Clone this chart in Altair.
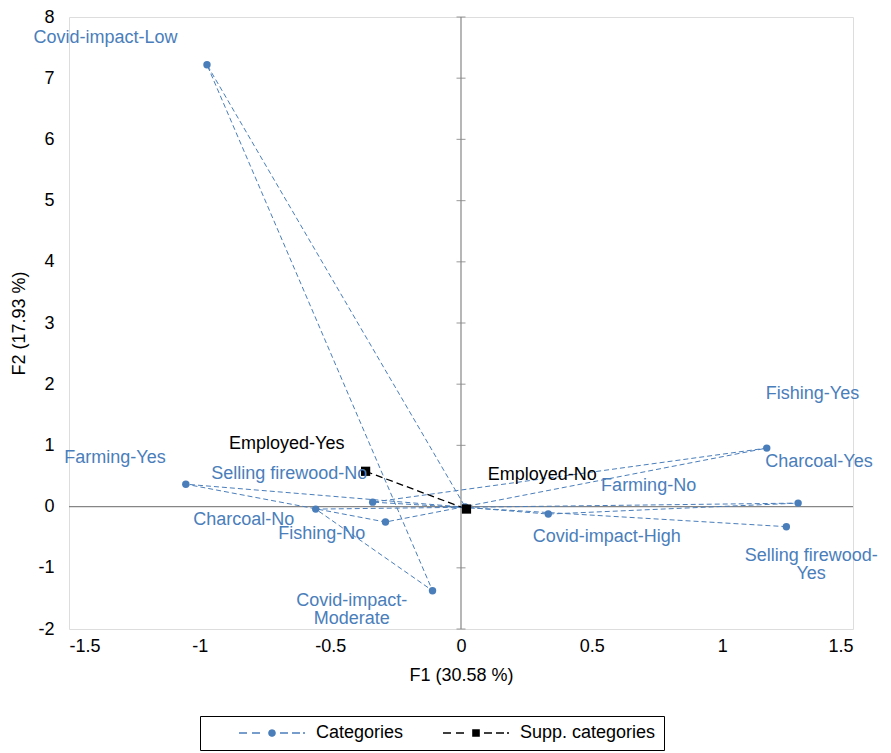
import altair as alt
import pandas as pd

# ---------------- data ----------------
# active categories, in the order the dashed series connects them
categories = ["Selling firewood-Yes", "Selling firewood-No", "Fishing-Yes", "Fishing-No",
              "Farming-Yes", "Covid-impact-High", "Charcoal-Yes", "Charcoal-No",
              "Covid-impact-Moderate", "Covid-impact-Low", "Farming-No"]
cat_f1 = [1.245, -0.338, 1.170, -0.289, -1.053, 0.334, 1.290, -0.556, -0.109, -0.972, 0.016]
cat_f2 = [-0.328, 0.073, 0.956, -0.252, 0.366, -0.122, 0.057, -0.041, -1.374, 7.22, -0.005]
cat_label_text = ["Selling firewood-\nYes", "Selling firewood-No", "Fishing-Yes", "Fishing-No",
                  "Farming-Yes", "Covid-impact-High", "Charcoal-Yes", "Charcoal-No",
                  "Covid-impact-\nModerate", "Covid-impact-Low", "Farming-No"]
cat_label_f1 = [1.340, -0.657, 1.345, -0.533, -1.324, 0.558, 1.370, -0.831, -0.418, -1.360, 0.718]
cat_label_f2 = [-0.813, 0.528, 1.846, -0.447, 0.789, -0.496, 0.724, -0.220, -1.545, 7.65, 0.333]

# supplementary categories
supp = ["Employed-Yes", "Employed-No"]
supp_f1 = [-0.365, 0.021]
supp_f2 = [0.577, -0.040]
supp_label_f1 = [-0.667, 0.311]
supp_label_f2 = [1.016, 0.512]

series_names = ["Categories", "Supp. categories"]
x_ticks = [-1.5, -1, -0.5, 0, 0.5, 1, 1.5]
y_ticks = [-2, -1, 0, 1, 2, 3, 4, 5, 6, 7, 8]

BLUE = "#4A7EBB"
FONT = "Liberation Sans"

cat_df = pd.DataFrame({"name": categories, "f1": cat_f1, "f2": cat_f2,
                       "seq": list(range(len(categories))),
                       "label": cat_label_text, "lf1": cat_label_f1, "lf2": cat_label_f2})
supp_df = pd.DataFrame({"name": supp, "f1": supp_f1, "f2": supp_f2,
                        "seq": list(range(len(supp))),
                        "label": supp, "lf1": supp_label_f1, "lf2": supp_label_f2})

xscale = alt.Scale(domain=[-1.5, 1.5], nice=False, zero=False)
yscale = alt.Scale(domain=[-2, 8], nice=False, zero=False)

xaxis = alt.Axis(values=x_ticks, labelExpr="'' + datum.value", title="F1 (30.58 %)",
                 grid=False, domain=False, ticks=False, labelPadding=8, titlePadding=11,
                 labelFontSize=18, titleFontSize=18, titleFontWeight="normal",
                 labelColor="black", titleColor="black", labelFont=FONT, titleFont=FONT)
yaxis = alt.Axis(values=y_ticks, labelExpr="'' + datum.value", title="F2 (17.93 %)",
                 grid=False, domain=False, ticks=False, labelPadding=15, titlePadding=9,
                 labelFontSize=18, titleFontSize=18, titleFontWeight="normal",
                 labelColor="black", titleColor="black", labelFont=FONT, titleFont=FONT)

# ---------------- legend symbols (dashes + marker), px relative to symbol centre ----------------
R = 7.0  # symbol "radius" used by the legend layout (size = (2R)^2)


def rect(x0, x1, h):
    return f"M{x0/R:.4f},{-h/R:.4f}H{x1/R:.4f}V{h/R:.4f}H{x0/R:.4f}Z"


def dashes():
    segs = [(22, 30), (35, 43), (63, 71), (75, 83), (86, 88)]
    return "".join(rect(a, b, 0.7) for a, b in segs)


cx = 55.0
rc = 3.8
circle_path = (f"M{(cx-rc)/R:.4f},0A{rc/R:.4f},{rc/R:.4f},0,1,0,{(cx+rc)/R:.4f},0"
               f"A{rc/R:.4f},{rc/R:.4f},0,1,0,{(cx-rc)/R:.4f},0Z")
sq = 3.8
square_path = f"M{(cx-sq)/R:.4f},{-sq/R:.4f}H{(cx+sq)/R:.4f}V{sq/R:.4f}H{(cx-sq)/R:.4f}Z"
sym_cat = dashes() + circle_path
sym_supp = dashes() + square_path

legend_df = pd.DataFrame({"series": series_names, "f1": [0.021, 0.021], "f2": [-0.04, -0.04]})

base_x = alt.X("f1:Q", scale=xscale, axis=xaxis)
base_y = alt.Y("f2:Q", scale=yscale, axis=yaxis)

legend_opts = dict(orient="none", legendX=131, legendY=699,
                   direction="horizontal", title=None,
                   strokeColor="black", fillColor="white", padding=8,
                   symbolSize=int((2 * R) ** 2), symbolOpacity=1,
                   symbolStrokeWidth=0, labelFontSize=18, labelFont=FONT,
                   labelColor="black", labelOffset=90, columnPadding=8,
                   cornerRadius=0)

legend_layer = alt.Chart(legend_df).mark_point(filled=True, opacity=0).encode(
    x=base_x, y=base_y,
    color=alt.Color("series:N", scale=alt.Scale(domain=series_names, range=[BLUE, "black"]),
                    legend=alt.Legend(**legend_opts)),
    shape=alt.Shape("series:N", scale=alt.Scale(domain=series_names, range=[sym_cat, sym_supp]),
                    legend=alt.Legend(**legend_opts)),
)

zero_x = alt.Chart(pd.DataFrame({"v": [0]})).mark_rule(color="#868686", strokeWidth=1.2).encode(
    x=alt.X("v:Q", scale=xscale, axis=xaxis))
zero_y = alt.Chart(pd.DataFrame({"v": [0]})).mark_rule(color="#868686", strokeWidth=1.2).encode(
    y=alt.Y("v:Q", scale=yscale, axis=yaxis))
ytick_marks = alt.Chart(pd.DataFrame({"t": y_ticks, "z": [0] * len(y_ticks)})).mark_tick(
    orient="horizontal", size=9, thickness=1.2, color="#868686").encode(
    x=alt.X("z:Q", scale=xscale, axis=xaxis), y=alt.Y("t:Q", scale=yscale, axis=yaxis))

cat_line = alt.Chart(cat_df).mark_line(color=BLUE, strokeWidth=1, strokeDash=[5, 3]).encode(
    x=base_x, y=base_y, order="seq:Q")
supp_line = alt.Chart(supp_df).mark_line(color="black", strokeWidth=1.3, strokeDash=[7, 4]).encode(
    x=base_x, y=base_y, order="seq:Q")

cat_pts = alt.Chart(cat_df).mark_circle(color=BLUE, size=55, opacity=1).encode(x=base_x, y=base_y)
supp_pts = alt.Chart(supp_df).mark_square(color="black", size=85, opacity=1).encode(x=base_x, y=base_y)

cat_text = alt.Chart(cat_df).mark_text(color=BLUE, fontSize=18, font=FONT, lineBreak="\n",
                                       lineHeight=18, align="center", baseline="middle").encode(
    x=alt.X("lf1:Q", scale=xscale, axis=xaxis), y=alt.Y("lf2:Q", scale=yscale, axis=yaxis),
    text="label:N")
supp_text = alt.Chart(supp_df).mark_text(color="black", fontSize=18, font=FONT,
                                         align="center", baseline="middle").encode(
    x=alt.X("lf1:Q", scale=xscale, axis=xaxis), y=alt.Y("lf2:Q", scale=yscale, axis=yaxis),
    text="label:N")

chart = alt.layer(
    legend_layer, zero_x, zero_y, ytick_marks, cat_line, supp_line,
    cat_pts, supp_pts, cat_text, supp_text
).properties(
    width=784, height=612,
    autosize=alt.AutoSizeParams(type="none"),
    padding={"left": 61, "top": 9, "right": 30, "bottom": 124},
).configure_view(stroke="#BFBFBF", strokeWidth=1.5).configure(font=FONT)

chart.save("out.html", embed_options={"renderer": "svg", "actions": False})
